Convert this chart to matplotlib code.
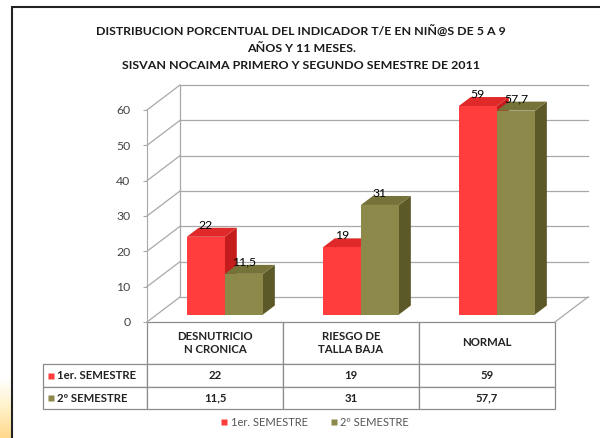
import numpy as np
import matplotlib
matplotlib.use('Agg')
import matplotlib.pyplot as plt
from matplotlib.patches import Polygon, Rectangle
from matplotlib.lines import Line2D
from matplotlib.colors import LinearSegmentedColormap

plt.rcParams['font.family'] = ['Lato', 'DejaVu Sans']

# datos
categorias = ['DESNUTRICIO\nN CRONICA', 'RIESGO DE\nTALLA BAJA', 'NORMAL']
series = ['1er. SEMESTRE', '2º SEMESTRE']
sem1 = [22, 19, 59]
sem2 = [11.5, 31, 57.7]
yticks = [0, 10, 20, 30, 40, 50, 60]
titulo = ['DISTRIBUCION PORCENTUAL DEL INDICADOR T/E EN NIÑ@S DE 5 A 9',
          'AÑOS Y 11 MESES.',
          'SISVAN NOCAIMA PRIMERO Y SEGUNDO SEMESTRE DE 2011']

# colores: frente, arriba, lado
col_rojo = ('#FF3D3D', '#E02A2A', '#C41C1C')
col_verde = ('#8C894B', '#76733A', '#5C5928')
grid_c = '#A8A8A8'

def fmt(v):
    return str(v).replace('.', ',')

fig = plt.figure(figsize=(6, 4.38), dpi=100)
fig.patch.set_facecolor('white')

# brillo amarillo de la diapositiva (abajo a la izquierda)
glow = fig.add_axes([0, 0, 12/600, 60/438])
grad = np.linspace(0, 1, 50).reshape(-1, 1)
cm = LinearSegmentedColormap.from_list('glow', ['#FFFFFF', '#FFF1C8', '#FFD98C'])
glow.imshow(grad, aspect='auto', cmap=cm, origin='upper')
glow.axis('off')

# marco de la diapositiva
fig.patches.append(Rectangle((12/600, -0.05), 1.0, 1 - 7/438 + 0.05, transform=fig.transFigure,
                             fill=False, edgecolor='#222222', linewidth=1.5))

fig.text(0.502, 0.890, '\n'.join(titulo), ha='center', va='center', fontsize=8.9,
         fontweight='bold', color='#1a1a1a', linespacing=1.62)

ax = fig.add_axes([147/600, 116/438, 408/600, 212/438])
ax.set_xlim(0, 3)
ax.set_ylim(0, 60)
ax.set_facecolor('none')

# profundidad 3D en unidades de datos
DX = 33/136
DY = 25*60/212

# paredes
for v in yticks:
    ax.plot([DX, 3 + DX], [v + DY, v + DY], color=grid_c, lw=0.9, clip_on=False, zorder=1)
    ax.plot([0, DX], [v, v + DY], color=grid_c, lw=0.9, clip_on=False, zorder=1)
ax.plot([DX, DX], [DY, 60 + DY], color=grid_c, lw=0.9, clip_on=False, zorder=1)
ax.plot([3, 3 + DX], [0, DY], color=grid_c, lw=0.9, clip_on=False, zorder=1)

# barras
w = 0.28
d0, d1 = 0.3, 0.66
z = 3
for i in range(len(categorias)):
    c = i + 0.5
    for s, (vals, cols) in enumerate([(sem1, col_rojo), (sem2, col_verde)]):
        v = vals[i]
        x0 = c - w + s*w
        x1 = x0 + w
        fx0, fx1 = x0 + d0*DX, x1 + d0*DX
        by = d0*DY
        # lado
        ax.add_patch(Polygon([(fx1, by), (x1 + d1*DX, d1*DY), (x1 + d1*DX, v + d1*DY), (fx1, v + by)],
                             closed=True, facecolor=cols[2], edgecolor='none', clip_on=False, zorder=z))
        # arriba
        ax.add_patch(Polygon([(fx0, v + by), (fx1, v + by), (x1 + d1*DX, v + d1*DY), (x0 + d1*DX, v + d1*DY)],
                             closed=True, facecolor=cols[1], edgecolor='none', clip_on=False, zorder=z))
        # frente
        ax.add_patch(Rectangle((fx0, by), w, v, facecolor=cols[0], edgecolor='none',
                               clip_on=False, zorder=z))
        z += 1
        ax.text(fx0 + w/2, v + d1*DY - 0.8, fmt(v), ha='center', va='bottom',
                fontsize=8.8, color='black', zorder=20)

# eje y
for sp in ['top', 'right', 'bottom']:
    ax.spines[sp].set_visible(False)
ax.spines['left'].set_color(grid_c)
ax.set_yticks(yticks)
ax.set_yticklabels([str(t) for t in yticks], fontsize=8.8, color='#444444')
ax.tick_params(axis='y', length=3, width=0.8, color=grid_c, pad=9)
ax.set_xticks([])

# tabla de datos (primera columna = nombre de la serie)
filas = [[series[0]] + [fmt(v) for v in sem1],
         [series[1]] + [fmt(v) for v in sem2]]
tab = ax.table(cellText=filas, colLabels=[''] + categorias, cellLoc='center',
               colWidths=[104/408, 136/408, 136/408, 136/408],
               bbox=[-104/408, -87/212, 512/408, 87/212])
tab.auto_set_font_size(False)
tab.set_fontsize(8.2)
for (r, cidx), cell in tab.get_celld().items():
    cell.set_edgecolor('#8C8C8C')
    cell.set_linewidth(0.9)
    cell.get_text().set_fontweight('bold')
    cell.get_text().set_color('#222222')
    if r == 0:
        cell.set_height(42)
    elif r == 1:
        cell.set_height(23)
    else:
        cell.set_height(22)
    if cidx == 0:
        if r == 0:
            cell.visible_edges = ''
        else:
            cell._loc = 'left'
            cell.PAD = 0.13
            cell.get_text().set_horizontalalignment('left')
# marcadores de la tabla
for r, cols in enumerate([col_rojo, col_verde]):
    ycell = (-42 - 11.5 - r*22.5) / 212
    ax.plot([-96/408], [ycell], marker='s', ms=4.5, color=cols[0], mec='none',
            transform=ax.transAxes, clip_on=False)

# leyenda
handles = [Line2D([], [], marker='s', ls='none', ms=5, color=col_rojo[0], mec='none'),
           Line2D([], [], marker='s', ls='none', ms=5, color=col_verde[0], mec='none')]
fig.legend(handles, series, loc='center', bbox_to_anchor=(0.525, 0.0365), ncol=2,
           frameon=False, fontsize=8, handlelength=0.6, handletextpad=0.3, columnspacing=2.0,
           labelcolor='#555555')

fig.savefig('out.png', dpi=100)
